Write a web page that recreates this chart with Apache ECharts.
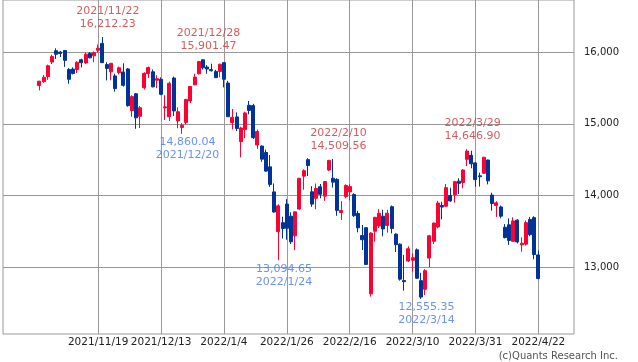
<!DOCTYPE html>
<html><head><meta charset="utf-8">
<script src="https://cdn.jsdelivr.net/npm/echarts@6/dist/echarts.min.js"></script>
<style>html,body{margin:0;padding:0;background:#fff}#c{width:638px;height:362px}</style>
</head><body><div id="c"></div>
<script>
const dates = [
'2021/11/1','2021/11/2','2021/11/3','2021/11/4','2021/11/5','2021/11/8','2021/11/9','2021/11/10','2021/11/11','2021/11/12',
'2021/11/15','2021/11/16','2021/11/17','2021/11/18','2021/11/19','2021/11/22','2021/11/23','2021/11/24','2021/11/26','2021/11/29',
'2021/11/30','2021/12/1','2021/12/2','2021/12/3','2021/12/6','2021/12/7','2021/12/8','2021/12/9','2021/12/10','2021/12/13',
'2021/12/14','2021/12/15','2021/12/16','2021/12/17','2021/12/20','2021/12/21','2021/12/22','2021/12/23','2021/12/27','2021/12/28',
'2021/12/29','2021/12/30','2021/12/31','2022/1/3','2022/1/4','2022/1/5','2022/1/6','2022/1/7','2022/1/10','2022/1/11',
'2022/1/12','2022/1/13','2022/1/14','2022/1/18','2022/1/19','2022/1/20','2022/1/21','2022/1/24','2022/1/25','2022/1/26',
'2022/1/27','2022/1/28','2022/1/31','2022/2/1','2022/2/2','2022/2/3','2022/2/4','2022/2/7','2022/2/8','2022/2/9',
'2022/2/10','2022/2/11','2022/2/14','2022/2/15','2022/2/16','2022/2/17','2022/2/18','2022/2/22','2022/2/23','2022/2/24',
'2022/2/25','2022/2/28','2022/3/1','2022/3/2','2022/3/3','2022/3/4','2022/3/7','2022/3/8','2022/3/9','2022/3/10',
'2022/3/11','2022/3/14','2022/3/15','2022/3/16','2022/3/17','2022/3/18','2022/3/21','2022/3/22','2022/3/23','2022/3/24',
'2022/3/25','2022/3/28','2022/3/29','2022/3/30','2022/3/31','2022/4/1','2022/4/4','2022/4/5','2022/4/6','2022/4/7',
'2022/4/8','2022/4/11','2022/4/12','2022/4/13','2022/4/14','2022/4/18','2022/4/19','2022/4/20','2022/4/21','2022/4/22'];

const opens = [
15535,15590,15660,15863,16021,16002,16025,15760,15765,15760,
15895,15850,15985,15950,16029,16124,15828,15727,15670,15715,
15725,15767,15186,15420,15106,15505,15700,15727,15610,15622,
15222,15100,15640,15040,14950,15020,15320,15545,15700,15895,
15794,15758,15733,15732,15855,15570,15017,15097,14752,14920,
15260,15255,14705,14690,14600,14400,14050,13495,13620,13880,
13710,13436,13810,14270,14500,14051,13960,14122,13990,14355,
14240,14225,13760,13985,14050,14014,13748,13440,13550,12626,
13500,13575,13710,13580,13843,13460,13320,12811,13085,13095,
13240,12810,12690,13125,13360,13560,13860,13850,14000,14010,
14200,14180,14505,14560,14455,14275,14310,14495,14005,13860,
13840,13555,13590,13360,13655,13310,13320,13665,13690,13170];

const closes = [
15596,15650,15812,15940,15972,15982,15887,15623,15704,15861,
15854,15974,15922,15994,16057,15855,15775,15845,15492,15783,
15538,15254,15381,15085,15225,15705,15787,15517,15631,15413,
15238,15566,15180,15170,14981,15341,15522,15653,15871,15782,
15766,15742,15645,15833,15623,15100,15092,14936,14943,15153,
15188,14807,14894,14507,14340,14154,13769,13855,13539,13542,
13353,13771,14240,14346,14418,13879,14098,14016,14194,14490,
14186,13791,13791,14140,14124,13717,13548,13382,13037,13474,
13695,13751,13532,13752,13538,13313,12831,12796,13256,13130,
12844,12581,12949,13437,13615,13894,13838,14109,13923,14192,
14169,14355,14620,14442,14221,14262,14533,14204,13889,13897,
13711,13412,13372,13644,13351,13332,13620,13453,13175,12839];

const lows = [
15468,15573,15615,15835,15907,15935,15796,15560,15690,15710,
15789,15840,15916,15860,15996,15851,15607,15610,15450,15690,
15520,15240,15100,14931,14942,15480,15640,15510,15500,15400,
15054,15040,15110,14938,14860.04,14990,15290,15540,15690,15760,
15700,15730,15640,15650,15510,15095,14924,14900,14533,14800,
15133,14790,14650,14470,14330,14120,13760,13094.65,13400,13382,
13322,13236,13800,14080,14272,13842,13808,13960,13925,14340,
14110,13716,13658,13960,13930,13700,13485,13238,13035,12587.88,
13354,13545,13430,13480,13470,13210,12810,12670,13070,12935,
12834,12555.35,12610,13000,13320,13540,13667,13840,13913,13900,
14020,14100,14410,14380,14122,14125,14300,14155,13788,13700,
13680,13400,13310,13350,13330,13215,13300,13430,13110,12830];

const highs = [
15601,15682,15828,15966,16055,16018,16030,15780,15790,15875,
15910,15997,16003,16012,16107,16212.23,15860,15852,15700,15800,
15846,15780,15400,15430,15250,15720,15800,15760,15680,15650,
15400,15590,15660,15230,15010,15350,15530,15700,15880,15901.47,
15822,15840,15755,15840,15860,15600,15208,15160,14960,15170,
15320,15280,14920,14700,14640,14565,14169,13876,13703,13950,
13765,13775,14242,14365,14520,14130,14166,14160,14200,14497,
14509.56,14240,13920,14155,14157,14030,13785,13587,13555,13489,
13700,13810,13800,13800,13860,13470,13330,13170,13290,13190,
13260,12920,12970,13450,13620,13925,13913,14160,14108,14205,
14240,14370,14646.90,14625,14465,14318,14540,14500,14038,13920,
13860,13600,13680,13695,13670,13415,13650,13700,13710,13230];

const tickLabels = ['2021/11/19','2021/12/13','2022/1/4','2022/1/26','2022/2/16','2022/3/10','2022/3/31','2022/4/22'];
const yTicks = [13000, 14000, 15000, 16000];
const highMarks = ['2021/11/22','2021/12/28','2022/2/10','2022/3/29'];
const lowMarks = ['2021/12/20','2022/1/24','2022/3/14'];

const FONT = 'DejaVu Sans';
const fmt2 = v => v.toLocaleString('en-US', {minimumFractionDigits: 2, maximumFractionDigits: 2});
const tickIdx = tickLabels.map(d => dates.indexOf(d));
const candleData = dates.map((d, i) => [i, opens[i], closes[i], lows[i], highs[i]]);

const highLabelData = highMarks.map(d => {
  const i = dates.indexOf(d);
  return { value: [i, highs[i]], label: { formatter: d + '\n' + fmt2(highs[i]) } };
});
const lowLabelData = lowMarks.map(d => {
  const i = dates.indexOf(d);
  return { value: [i, lows[i]], label: { formatter: fmt2(lows[i]) + '\n' + d } };
});

const chart = echarts.init(document.getElementById('c'), null, {renderer: 'canvas'});
chart.setOption({
  animation: false,
  backgroundColor: '#fff',
  grid: { left: 3, right: 64, top: 0, bottom: 28, show: true, borderColor: '#999', borderWidth: 1, backgroundColor: 'transparent' },
  xAxis: {
    type: 'value', min: -8.7, max: 127.5,
    axisLine: { show: false },
    axisTick: { show: true, length: 0, customValues: tickIdx, lineStyle: { color: '#999' } },
    axisLabel: { customValues: tickIdx, formatter: v => dates[v] || '', fontFamily: FONT, fontSize: 10.5, color: '#222', margin: 3, hideOverlap: false, showMinLabel: true, showMaxLabel: true },
    splitLine: { show: true, lineStyle: { color: '#999', width: 1 } }
  },
  yAxis: {
    type: 'value', position: 'right', min: 12065, max: 16730, scale: true,
    axisLine: { show: false },
    axisTick: { show: true, length: 6, customValues: yTicks, lineStyle: { color: '#999' } },
    axisLabel: { customValues: yTicks, formatter: v => v.toLocaleString('en-US'), fontFamily: FONT, fontSize: 10, color: '#222', margin: 10 },
    splitLine: { show: true, lineStyle: { color: '#999', width: 1 } }
  },
  series: [
    {
      type: 'candlestick', data: candleData, encode: { x: 0, y: [1, 2, 3, 4] },
      barWidth: 3.5,
      itemStyle: { color: '#ff0033', color0: '#003399', borderColor: '#ff0033', borderColor0: '#003399', borderWidth: 1 }
    },
    {
      type: 'scatter', data: highLabelData, symbolSize: 1, silent: true, z: 10,
      itemStyle: { color: 'rgba(0,0,0,0)' },
      label: { show: true, position: 'top', distance: 6, offset: [5.5, 0], fontFamily: FONT, fontSize: 11, lineHeight: 13, color: '#cc3333', align: 'center' }
    },
    {
      type: 'scatter', data: lowLabelData, symbolSize: 1, silent: true, z: 10,
      itemStyle: { color: 'rgba(0,0,0,0)' },
      label: { show: true, position: 'bottom', distance: 1.5, offset: [5.5, 0], fontFamily: FONT, fontSize: 11, lineHeight: 13, color: '#4477ee', align: 'center' }
    }
  ],
  graphic: [
    { type: 'text', right: 20, top: 351, style: { text: '(c)Quants Research Inc.', font: '10px "DejaVu Sans"', fill: '#555' } }
  ]
});
</script></body></html>
